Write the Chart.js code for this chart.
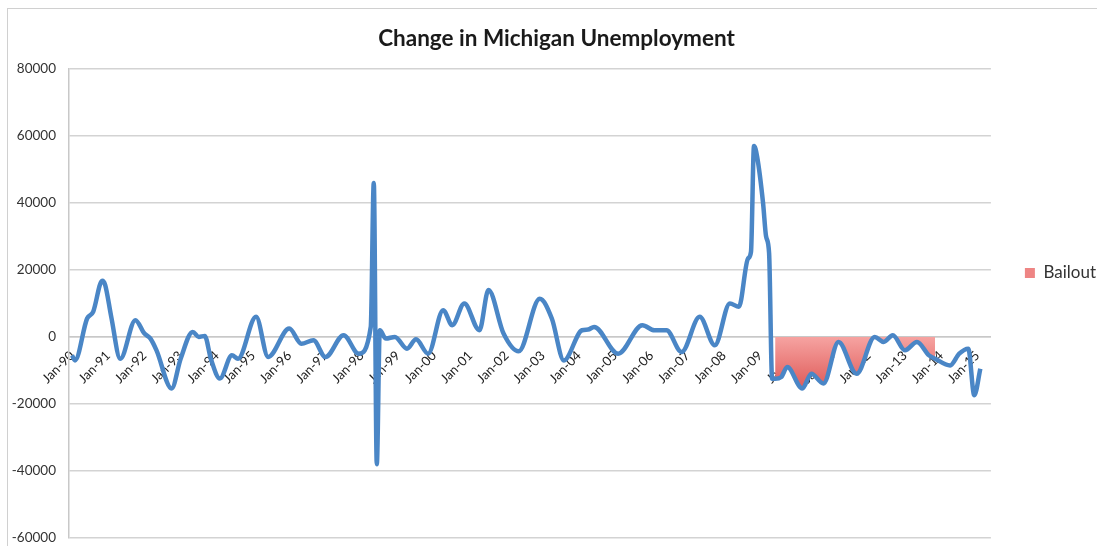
<!DOCTYPE html>
<html>
<head>
<meta charset="utf-8">
<title>Change in Michigan Unemployment</title>
<script src="https://cdn.jsdelivr.net/npm/chart.js@4.4.1/dist/chart.umd.min.js"></script>
<style>
  html, body { margin: 0; padding: 0; background: #fff; overflow: hidden; }
  #frame { position: absolute; left: 7px; top: 8px; width: 1200px; height: 600px; border: 1px solid #d0d0d0; }
  #wrap { position: absolute; left: 0; top: 0; width: 1097px; height: 546px; }
</style>
</head>
<body>
<div id="frame"></div>
<div id="wrap"><canvas id="chart"></canvas></div>
<script>
// months counted from Jan-90 (0 = Jan-90, 12 = Jan-91 ...)
const monthIndex = [
  0, 1, 5, 7, 10, 11, 13, 16, 21, 24, 26, 28,
  33, 36, 40, 42, 44, 46, 49, 53, 55, 61, 65,
  72, 76, 80, 84, 90, 95, 99, 100, 101, 102, 104, 107, 111, 114, 118,
  123, 126, 130, 135, 138, 143, 148, 155, 159, 163,
  169, 171, 173, 181, 189, 193, 197, 202, 208, 213,
  218, 221, 224, 225, 226, 227, 229, 230, 231, 232,
  233, 235, 237, 242, 245, 249, 254, 260, 266, 269, 272, 276, 280, 284, 286,
  291, 294, 297, 299, 301
];

const unemploymentChange = [
  -5500, -7000, 5500, 7500, 16800, 15500, 6000, -6500, 5000, 1000, -500, -4000,
  -15400, -6500, 1500, 0, 300, -6500, -12400, -5500, -6500, 6000, -6000,
  2500, -2000, -1000, -6000, 500, -5000, 3000, 46000, -38000, 2000, -500, 0, -3500, -700, -5000,
  8000, 3500, 10000, 2000, 14000, 1000, -4300, 11400, 5500, -7000,
  2000, 2200, 3000, -5000, 3500, 2000, 2000, -4500, 6000, -2500,
  10000, 9000, 23400, 25400, 57000, 54000, 40000, 30000, 25000, -12500,
  -12500, -12000, -9000, -15400, -11000, -13900, -1500, -11000, 0, -1500, 500, -4000, -1500, -5500, -6500,
  -8500, -5000, -3500, -17400, -9500
];

// bailout shading window (month index)
const bailoutFrom = 233;
const bailoutTo = 286;

const tickMonths = [0, 12, 24, 36, 48, 60, 72, 84, 96, 108, 120, 132, 144,
  156, 168, 180, 192, 204, 216, 228, 240, 252, 264, 276, 288, 300];
const tickLabels = ['Jan-90', 'Jan-91', 'Jan-92', 'Jan-93', 'Jan-94', 'Jan-95', 'Jan-96',
  'Jan-97', 'Jan-98', 'Jan-99', 'Jan-00', 'Jan-01', 'Jan-02', 'Jan-03', 'Jan-04',
  'Jan-05', 'Jan-06', 'Jan-07', 'Jan-08', 'Jan-09', 'Jan-10', 'Jan-11', 'Jan-12',
  'Jan-13', 'Jan-14', 'Jan-15'];

const yTicks = [-60000, -40000, -20000, 0, 20000, 40000, 60000, 80000];

// build points
const linePoints = monthIndex.map((m, i) => ({ x: m, y: unemploymentChange[i] }));
const bailoutPoints = linePoints.filter(p => p.x >= bailoutFrom && p.x <= bailoutTo);

function bailoutFill(ctx) {
  const chart = ctx.chart;
  if (!chart.chartArea) return '#f09a98';
  const y = chart.scales.y;
  const g = chart.ctx.createLinearGradient(0, y.getPixelForValue(0), 0, y.getPixelForValue(-16000));
  g.addColorStop(0, '#f6a3a1');
  g.addColorStop(1, '#de5856');
  return g;
}

new Chart(document.getElementById('chart'), {
  type: 'line',
  data: {
    datasets: [{
      label: 'Change',
      data: linePoints,
      borderColor: '#4a86c6',
      borderWidth: 4.5,
      pointRadius: 0,
      cubicInterpolationMode: 'monotone',
      fill: false,
      order: 1
    }, {
      label: 'Bailout',
      data: bailoutPoints,
      borderWidth: 0,
      borderColor: 'rgba(0,0,0,0)',
      backgroundColor: bailoutFill,
      pointRadius: 0,
      cubicInterpolationMode: 'monotone',
      fill: 'origin',
      order: 2
    }]
  },
  options: {
    responsive: true,
    maintainAspectRatio: false,
    animation: false,
    layout: { padding: { left: 7, right: -9, top: 0, bottom: 0 } },
    plugins: {
      title: {
        display: true,
        text: 'Change in Michigan Unemployment',
        color: '#1a1a1a',
        font: { family: 'Lato', size: 22.5, weight: 'bold' },
        padding: { top: 25, bottom: 17 }
      },
      legend: {
        position: 'right',
        labels: {
          padding: 34,
          boxWidth: 10,
          boxHeight: 10,
          color: '#333',
          font: { family: 'Lato', size: 17 },
          generateLabels: chart => Chart.defaults.plugins.legend.labels.generateLabels(chart)
            .filter(l => l.datasetIndex === 1)
            .map(l => Object.assign(l, { fillStyle: '#ee8584', strokeStyle: '#ee8584', lineWidth: 0 }))
        }
      },
      tooltip: { enabled: false }
    },
    scales: {
      x: {
        type: 'linear',
        position: { y: 0 },
        min: -1,
        max: 304.5,
        afterBuildTicks: axis => { axis.ticks = tickMonths.map(v => ({ value: v })); },
        ticks: {
          autoSkip: false,
          minRotation: 45,
          maxRotation: 45,
          color: '#222',
          font: { family: 'Lato', size: 13 },
          callback: (v, i) => tickLabels[i]
        },
        grid: { display: false },
        border: { display: true, color: '#c8c8c8', width: 1.5 }
      },
      y: {
        min: -60000,
        max: 80000,
        afterBuildTicks: axis => { axis.ticks = yTicks.map(v => ({ value: v })); },
        afterFit: axis => { axis.width = 62; },
        ticks: {
          color: '#333',
          padding: 0,
          font: { family: 'Lato', size: 13.5 },
          callback: v => String(v)
        },
        grid: { color: '#d3d3d3', lineWidth: 1.5, drawTicks: true, tickLength: 13, tickColor: 'rgba(0,0,0,0)' },
        border: { display: true, color: '#c8c8c8', width: 1.5 }
      }
    }
  }
});
</script>
</body>
</html>
